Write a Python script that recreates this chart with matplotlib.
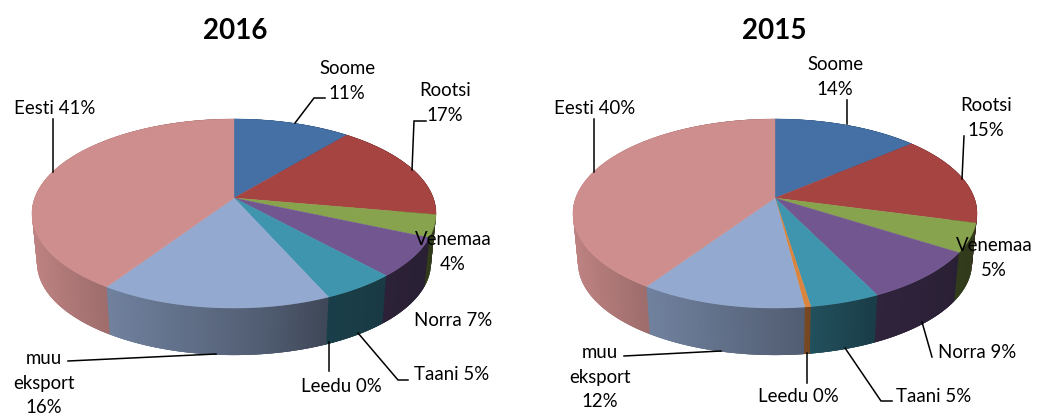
import numpy as np
import matplotlib.pyplot as plt
from matplotlib.colors import to_rgb
from matplotlib.patches import Polygon

plt.rcParams['font.family'] = ['Lato', 'DejaVu Sans']

# Data (share of each slice, clockwise from the top)
names = ['Soome', 'Rootsi', 'Venemaa', 'Norra', 'Taani', 'Leedu', 'muu eksport', 'Eesti']
values_2016 = [11.0, 16.8, 3.8, 6.7, 5.1, 0.0, 15.9, 40.7]
values_2015 = [13.7, 15.5, 4.9, 8.7, 4.8, 0.4, 11.4, 40.6]
colors = ['#4470a5', '#a64442', '#87a34d', '#725690', '#3f95ae', '#db843d', '#93a9cf', '#ce8e8d']

labels_2016 = ['Soome\n11%', 'Rootsi\n17%', 'Venemaa\n4%', 'Norra 7%', 'Taani 5%',
               'Leedu 0%', 'muu\neksport\n16%', 'Eesti 41%']
labels_2015 = ['Soome\n14%', 'Rootsi\n15%', 'Venemaa\n5%', 'Norra 9%', 'Taani 5%',
               'Leedu 0%', 'muu\neksport\n12%', 'Eesti 40%']

# label centres, in picture pixels
pos_2016 = [(347, 79), (445, 101), (453, 250), (453, 318), (452, 373),
            (341, 385), (44, 381), (55, 107)]
pos_2015 = [(835, 75), (986, 116), (994, 256), (977, 350), (934, 394),
            (798, 395), (600, 375), (595, 107)]

leaders_2016 = [[(295, 123), (314, 98), (325, 98)],
                [(412, 170), (414, 121), (426, 121)],
                [(358, 333), (398, 380), (408, 380)],
                [(329, 342), (329, 371)],
                [(216, 354), (68, 361)],
                [(53, 172), (53, 119)]]
leaders_2015 = [[(847, 124), (847, 100)],
                [(962, 179), (964, 136)],
                [(922, 322), (932, 357)],
                [(845, 348), (881, 401), (892, 401)],
                [(807, 353), (807, 383)],
                [(721, 351), (624, 356)],
                [(594, 172), (594, 119)]]

# Excel style perspective of the disc
K = 0.164
A = 199.3
B = 92.0


def top_rim(theta):
    u, v = np.sin(theta), np.cos(theta)
    return A * u / (1 + K * v), -B * v / (1 + K * v)


def bottom_rim(theta):
    x, y = top_rim(theta)
    return x * 0.975, 65 + 0.974 * (y - 15.5)


def shade(x):
    return np.interp(x, [-202, -130, 30, 97, 202], [0.92, 0.77, 0.55, 0.42, 0.36])


def draw_pie(ax, cx, cy, values, title, title_x):
    edges = np.cumsum([0] + values) / sum(values) * 2 * np.pi
    step = 0.01

    # walls first, the top face hides what is behind
    for i, col in enumerate(colors):
        if values[i] == 0:
            continue
        n = max(int((edges[i + 1] - edges[i]) / step), 2)
        th = np.linspace(edges[i], edges[i + 1], n + 1)
        rgb = np.array(to_rgb(col))
        for a, b in zip(th[:-1], th[1:]):
            # each strip runs on a little under the next one, so no seams show
            b2 = b + 2 * step
            x1, y1 = top_rim(a)
            x2, y2 = top_rim(b2)
            x3, y3 = bottom_rim(b2)
            x4, y4 = bottom_rim(a)
            ax.add_patch(Polygon([(cx + x1, cy + y1), (cx + x2, cy + y2),
                                  (cx + x3, cy + y3), (cx + x4, cy + y4)],
                                 facecolor=rgb * shade(x1), lw=0, zorder=2))

    for i, col in enumerate(colors):
        if values[i] == 0:
            continue
        n = max(int((edges[i + 1] - edges[i]) * 90), 2)
        th = np.linspace(edges[i], edges[i + 1], n + 1)
        x, y = top_rim(th)
        pts = [(cx, cy)] + list(zip(cx + x, cy + y))
        ax.add_patch(Polygon(pts, facecolor=col, edgecolor=col, lw=0.3, zorder=3))

    ax.text(title_x, 31, title, fontsize=20, fontweight='bold', ha='center', va='center', zorder=6)


fig = plt.figure(figsize=(10.37, 4.18), dpi=100)
ax = fig.add_axes([0, 0, 1, 1])
ax.set_xlim(0, 1037)
ax.set_ylim(418, 0)
ax.axis('off')

draw_pie(ax, 234, 198, values_2016, '2016', 235)
draw_pie(ax, 775, 198, values_2015, '2015', 774)

for labels, pos in [(labels_2016, pos_2016), (labels_2015, pos_2015)]:
    for lab, (x, y) in zip(labels, pos):
        ax.text(x, y + 2, lab, fontsize=13.4, ha='center', va='center', linespacing=1.52,
                color='black', zorder=6)

for leaders in [leaders_2016, leaders_2015]:
    for line in leaders:
        xs, ys = zip(*line)
        ax.plot(xs, ys, color='black', lw=1.1, zorder=5, solid_joinstyle='miter')

fig.savefig('out.png', dpi=100)
